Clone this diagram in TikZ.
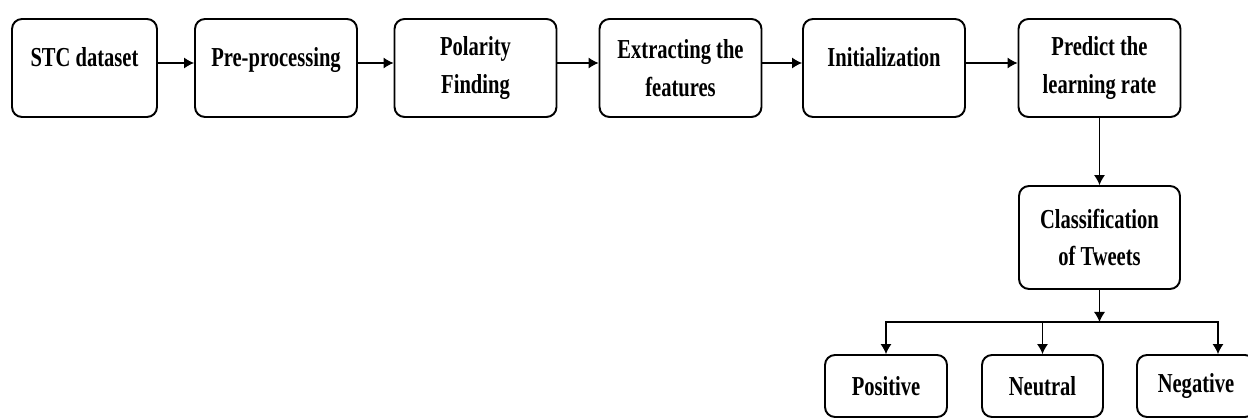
\documentclass[tikz,border=0pt]{standalone}
\usepackage{fontspec}
\newfontfamily\boxfont{Liberation Serif}[FakeStretch=0.75]
\usepackage{tikz}
\usetikzlibrary{arrows.meta, calc}

\tikzset{
    blocco/.style = {draw, line width = 1.1pt, rounded corners = 0.2cm, align = center,
        font = \boxfont\bfseries\fontsize{15.6}{21.6}\selectfont,
        minimum width = 3.24cm, minimum height = 1.96cm, inner sep = 0pt},
    riga/.style = {text depth = 0.46cm},
    freccia/.style = {-{Latex[length = 5.7pt, width = 6.3pt]}, line width = 0.6pt}
}

\begin{document}
\begin{tikzpicture}[x = 0.02cm, y = -0.02cm]
    % Parametri
    \pgfmathsetmacro{\riga}{68}
    \pgfmathsetmacro{\ramo}{322}
    \useasboundingbox (0,0) rectangle (1248,418);
    
    % Catena principale
    \node[blocco, riga, minimum width = 2.9cm] (stc) at (84.5,\riga) {STC dataset};
    \node[blocco, riga] (pre) at (276,\riga) {Pre-processing};
    \node[blocco] (pol) at (475.5,\riga) {Polarity\\Finding};
    \node[blocco] (ext) at (680.5,\riga) {Extracting the\\features};
    \node[blocco, riga] (ini) at (884,\riga) {Initialization};
    \node[blocco] (pred) at (1099.5,\riga) {Predict the\\learning rate};
    \foreach \a/\b in {stc/pre, pre/pol, pol/ext, ext/ini, ini/pred}
        \draw[freccia] ([yshift = 1mm]\a.east) -- ([yshift = 1mm]\b.west);
    
    % Classificazione
    \node[blocco, minimum width = 3.22cm, minimum height = 2.06cm] (cls) at (1099.5,237.5) {Classification\\of Tweets};
    \draw[freccia] (pred.south) -- (cls.north);
    
    % Classi
    \node[blocco, minimum width = 2.44cm, minimum height = 1.24cm] (pos) at (886,386) {Positive};
    \node[blocco, minimum width = 2.42cm, minimum height = 1.24cm] (neu) at (1042.5,386) {Neutral};
    \node[blocco, minimum width = 2.36cm, minimum height = 1.24cm] (neg) at (1196,386) {Negative};
    \coordinate (split) at (cls.south |- 0,\ramo);
    \draw[freccia] (cls.south) -- (split);
    \draw[freccia] (split) -| (pos.north);
    \draw[freccia] (split) -| (neu.north);
    \draw[freccia] (split) -| ([xshift = 4.4mm]neg.north);
\end{tikzpicture}
\end{document}
